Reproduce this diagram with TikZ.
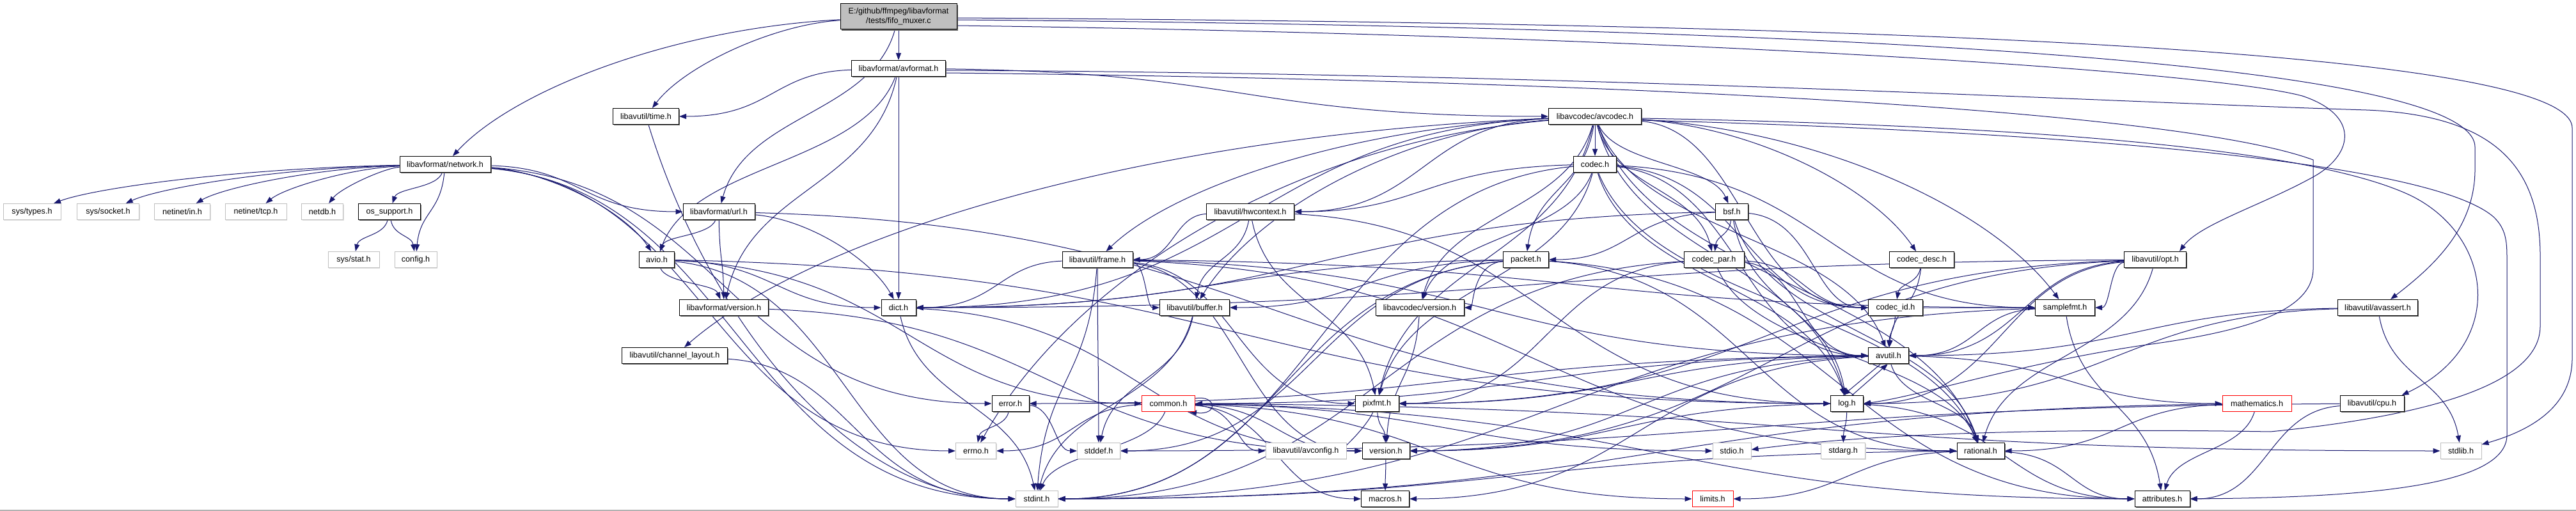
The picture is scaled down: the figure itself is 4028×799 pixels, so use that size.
\documentclass[tikz,border=0pt]{standalone}
\usepackage{fontspec}
\setmainfont{Liberation Sans}
\usetikzlibrary{arrows.meta,shadows,calc}
\pgfdeclarelayer{back}
\pgfdeclarelayer{bg}
\pgfsetlayers{back,bg,main}
\definecolor{mblue}{RGB}{25,25,112}
\newdimen\edgax \newdimen\edgay \newdimen\edgbx \newdimen\edgby
\tikzset{
  box/.style={draw=black, line width=1pt, fill=white, minimum height=25pt, inner sep=0pt,
    font=\fontsize{12.6}{15}\selectfont,
    drop shadow={shadow xshift=1.6pt, shadow yshift=-1.6pt, fill=black!60, opacity=1}},
  sysbox/.style={draw=black!25, line width=1pt, fill=white, minimum height=25pt, inner sep=0pt,
    font=\fontsize{12.6}{15}\selectfont,
    drop shadow={shadow xshift=1.4pt, shadow yshift=-1.4pt, fill=black!12, opacity=1}},
  redbox/.style={draw=red, line width=1pt, fill=white, minimum height=25pt, inner sep=0pt,
    font=\fontsize{12.6}{15}\selectfont},
  srcbox/.style={box, fill=black!25, minimum height=40pt, align=center},
  edge/.style={draw=mblue, line width=1pt, -{Triangle[length=11pt,width=8pt]}},
}
\newcommand{\hnode}[6]{\node[#5, minimum width=#4pt] (#1) at (#2,-#3) {#6};}
% #1: 0 auto, 1 force arrival from top, 2 force arrival from side
\newcommand{\edgcore}[3]{%
  \pgfextractx{\edgax}{\pgfpointanchor{#2}{center}}%
  \pgfextracty{\edgay}{\pgfpointanchor{#2}{center}}%
  \pgfextractx{\edgbx}{\pgfpointanchor{#3}{center}}%
  \pgfextracty{\edgby}{\pgfpointanchor{#3}{center}}%
  \pgfmathsetmacro{\edgdx}{\edgbx-\edgax}%
  \pgfmathsetmacro{\edgdy}{\edgay-\edgby}%
  \pgfmathsetmacro{\edgs}{abs(\edgdx)>1.5*\edgdy ? 1 : 0}%
  \pgfmathsetmacro{\edgt}{#1==1 ? 1 : (#1==2 ? 0 : (abs(\edgdx)<1.5*\edgdy ? 1 : 0))}%
  \pgfmathsetmacro{\edgpx}{\edgax + \edgs*0.5*\edgdx + (1-\edgs)*0.15*\edgdx}%
  \pgfmathsetmacro{\edgpy}{\edgay - (1-\edgs)*0.5*\edgdy - \edgs*0.08*\edgdy}%
  \pgfmathsetmacro{\edgqx}{\edgbx - (1-\edgt)*0.5*\edgdx - \edgt*0.15*\edgdx}%
  \pgfmathsetmacro{\edgqy}{\edgby + \edgt*0.5*\edgdy}%
  \draw[edge] (#2) .. controls (\edgpx pt,\edgpy pt) and (\edgqx pt,\edgqy pt) .. (#3);%
}
\newcommand{\edg}[2]{\edgcore{0}{#1}{#2}}
\newcommand{\edgT}[2]{\edgcore{1}{#1}{#2}}
\newcommand{\edgS}[2]{\edgcore{2}{#1}{#2}}
\begin{document}
\begin{tikzpicture}[x=1pt,y=1pt]
\useasboundingbox (0,0) rectangle (4028,-799);
\begin{pgfonlayer}{back}\fill[white] (0,0) rectangle (4028,-799);\end{pgfonlayer}
% nodes
\node[srcbox, minimum width=182pt] (src) at (1405,-26) {E:/github/ffmpeg/libavformat\\/tests/fifo\_muxer.c};
\hnode{avformat}{1405}{107}{147}{box}{libavformat/avformat.h}
\hnode{time}{1010}{182}{103}{box}{libavutil/time.h}
\hnode{avcodec}{2494}{182}{145}{box}{libavcodec/avcodec.h}
\hnode{network}{696}{257}{142}{box}{libavformat/network.h}
\hnode{codec}{2494}{257}{67}{box}{codec.h}
\hnode{systypes}{50}{331}{90}{sysbox}{sys/types.h}
\hnode{syssocket}{169}{331}{97}{sysbox}{sys/socket.h}
\hnode{netin}{285}{331}{87}{sysbox}{netinet/in.h}
\hnode{nettcp}{400}{331}{96}{sysbox}{netinet/tcp.h}
\hnode{netdb}{504}{331}{65}{sysbox}{netdb.h}
\hnode{ossupport}{609}{331}{97}{box}{os\_support.h}
\hnode{url}{1124}{331}{112}{box}{libavformat/url.h}
\hnode{hwcontext}{1955}{331}{137}{box}{libavutil/hwcontext.h}
\hnode{bsf}{2708}{331}{51}{box}{bsf.h}
\hnode{sysstat}{553}{406}{80}{sysbox}{sys/stat.h}
\hnode{config}{650}{406}{66}{sysbox}{config.h}
\hnode{avio}{1027}{406}{55}{box}{avio.h}
\hnode{frame}{1716}{406}{110}{box}{libavutil/frame.h}
\hnode{packet}{2386}{406}{71}{box}{packet.h}
\hnode{codecpar}{2680}{406}{94}{box}{codec\_par.h}
\hnode{codecdesc}{3005}{406}{101}{box}{codec\_desc.h}
\hnode{opt}{3370}{406}{97}{box}{libavutil/opt.h}
\hnode{avfversion}{1132}{481}{139}{box}{libavformat/version.h}
\hnode{dict}{1405}{481}{54}{box}{dict.h}
\hnode{buffer}{1868}{481}{109}{box}{libavutil/buffer.h}
\hnode{avcversion}{2220}{481}{138}{box}{libavcodec/version.h}
\hnode{codecid}{2964}{481}{85}{box}{codec\_id.h}
\hnode{samplefmt}{3229}{481}{93}{box}{samplefmt.h}
\hnode{avassert}{3718}{481}{125}{box}{libavutil/avassert.h}
\hnode{chlayout}{1055}{556}{165}{box}{libavutil/channel\_layout.h}
\hnode{avutil}{2953}{556}{63}{box}{avutil.h}
\hnode{error}{1580}{631}{58}{box}{error.h}
\hnode{common}{1827}{631}{83}{redbox}{common.h}
\hnode{pixfmt}{2153}{631}{68}{box}{pixfmt.h}
\hnode{log}{2888}{631}{51}{box}{log.h}
\hnode{mathematics}{3529}{631}{108}{redbox}{mathematics.h}
\hnode{cpu}{3709}{631}{100}{box}{libavutil/cpu.h}
\hnode{errno}{1526}{705}{63}{sysbox}{errno.h}
\hnode{stddef}{1718}{705}{67}{sysbox}{stddef.h}
\hnode{avconfig}{2042}{705}{126}{sysbox}{libavutil/avconfig.h}
\hnode{version}{2167}{705}{74}{box}{version.h}
\hnode{stdio}{2708}{705}{60}{sysbox}{stdio.h}
\hnode{stdarg}{2882}{705}{69}{sysbox}{stdarg.h}
\hnode{rational}{3097}{705}{74}{box}{rational.h}
\hnode{stdlib}{3848}{705}{64}{sysbox}{stdlib.h}
\hnode{stdint}{1621}{780}{66}{sysbox}{stdint.h}
\hnode{macros}{2166}{780}{75}{box}{macros.h}
\hnode{limits}{2678}{780}{64}{redbox}{limits.h}
\hnode{attributes}{3381}{780}{86}{box}{attributes.h}
% edges
\begin{pgfonlayer}{bg}
% source file
\edg{src}{avformat}
\edgT{src}{time}
\edgT{src}{network}
\edg{src}{url}
\draw[edge] ([yshift=-2pt]src.east) .. controls (2600,-35) and (4022,-60) .. (4022,-200) -- (4022,-560) .. controls (4022,-640) and (3950,-675) .. ([yshift=-3pt]stdlib.north east);
\draw[edge] ([yshift=-5pt]src.east) .. controls (2600,-40) and (3870,-80) .. (3870,-230) -- (3870,-265) .. controls (3870,-360) and (3800,-420) .. ([xshift=20pt]avassert.north);
\draw[edge] ([yshift=-14pt]src.east) .. controls (2600,-55) and (3450,-110) .. (3600,-150) .. controls (3690,-180) and (3680,-240) .. (3620,-275) .. controls (3540,-320) and (3440,-350) .. ([xshift=38pt]opt.north);
% avformat.h
\edg{avformat}{time}
\edg{avformat}{avcodec}
\edg{avformat}{dict}
\edg{avformat}{avio}
\edg{avformat}{avfversion}
\draw[edge] ([yshift=-3pt]avformat.east) .. controls (2500,-115) and (3300,-160) .. (3700,-172) .. controls (3900,-180) and (3972,-260) .. (3972,-400) -- (3972,-510) .. controls (3972,-600) and (3800,-650) .. (3550,-675) .. controls (3250,-670) and (2950,-675) .. ([yshift=2pt]stdio.east);
\draw[edge] ([yshift=-7pt]avformat.east) .. controls (2500,-125) and (3400,-170) .. (3617,-250) -- (3617,-420) .. controls (3617,-490) and (3500,-520) .. (3350,-540) .. controls (3150,-570) and (3000,-620) .. (log.east);
% avio.h
\edgS{avio}{stdint}
\edg{avio}{common}
\edg{avio}{dict}
\edg{avio}{log}
\edg{avio}{avfversion}
\edg{avfversion}{version}
% url.h
\edg{url}{avio}
\edg{url}{avfversion}
\edgT{url}{dict}
\edg{url}{log}
% network.h
\edg{network}{errno}
\edg{network}{stdint}
\edg{network}{config}
\edg{network}{error}
\edg{network}{ossupport}
\edgT{network}{avio}
\edg{network}{url}
\edgT{network}{systypes}
\edgT{network}{syssocket}
\edgT{network}{netin}
\edgT{network}{nettcp}
\edgT{network}{netdb}
\edg{ossupport}{config}
\edg{ossupport}{sysstat}
\edgS{time}{stdint}
% opt.h
\edg{opt}{rational}
\edg{opt}{avutil}
\edg{opt}{dict}
\edg{opt}{log}
\edg{opt}{pixfmt}
\edg{opt}{samplefmt}
\edg{opt}{version}
% avassert.h
\edg{avassert}{stdlib}
\edg{avassert}{avutil}
\edg{avassert}{log}
% cpu.h
\edg{cpu}{stddef}
\edg{cpu}{attributes}
% avcodec.h
\edgT{avcodec}{errno}
\edgT{avcodec}{samplefmt}
\edg{avcodec}{avutil}
\edgT{avcodec}{buffer}
\edgT{avcodec}{chlayout}
\edg{avcodec}{dict}
\edgT{avcodec}{frame}
\edg{avcodec}{hwcontext}
\edg{avcodec}{log}
\edg{avcodec}{pixfmt}
\edg{avcodec}{rational}
\edg{avcodec}{bsf}
\edg{avcodec}{codec}
\edgT{avcodec}{codecdesc}
\edg{avcodec}{codecpar}
\edg{avcodec}{codecid}
\edg{avcodec}{packet}
\edg{avcodec}{avcversion}
\draw[edge] ([yshift=-3pt]avcodec.east) .. controls (3100,-195) and (3600,-225) .. (3770,-306) .. controls (3900,-370) and (3920,-540) .. ([xshift=-4pt]cpu.north east);
\draw[edge] ([yshift=-6pt]avcodec.east) .. controls (3200,-205) and (3800,-250) .. (3900,-340) .. controls (3920,-360) and (3920,-380) .. (3920,-410) -- (3920,-680) .. controls (3920,-760) and (3700,-778) .. (attributes.east);
% codec.h
\edg{codec}{stdint}
\edg{codec}{avutil}
\edg{codec}{hwcontext}
\edg{codec}{log}
\edg{codec}{pixfmt}
\edg{codec}{rational}
\edg{codec}{samplefmt}
\edg{codec}{codecid}
\edg{codec}{avcversion}
% bsf.h
\edg{bsf}{dict}
\edg{bsf}{log}
\edg{bsf}{rational}
\edg{bsf}{codecid}
\edg{bsf}{codecpar}
\edg{bsf}{packet}
% codec_desc, codec_id, codec_par
\edg{codecdesc}{avutil}
\edg{codecdesc}{codecid}
\edg{codecid}{avutil}
\edg{codecid}{samplefmt}
\edg{codecpar}{stdint}
\edg{codecpar}{avutil}
\edg{codecpar}{rational}
\edg{codecpar}{pixfmt}
\edg{codecpar}{codecid}
% packet.h
\edg{packet}{stddef}
\edg{packet}{stdint}
\edg{packet}{attributes}
\edg{packet}{buffer}
\edg{packet}{dict}
\edg{packet}{rational}
\edg{packet}{avcversion}
\edg{avcversion}{version}
% hwcontext.h
\edg{hwcontext}{buffer}
\edg{hwcontext}{frame}
\edg{hwcontext}{log}
\edg{hwcontext}{pixfmt}
% frame.h
\edg{frame}{stddef}
\edg{frame}{stdint}
\edg{frame}{avutil}
\edg{frame}{buffer}
\edg{frame}{dict}
\edg{frame}{rational}
\edg{frame}{samplefmt}
\edg{frame}{pixfmt}
\edg{frame}{version}
% small headers
\edg{buffer}{stddef}
\edg{buffer}{stdint}
\edg{dict}{stdint}
\edg{dict}{version}
\edg{chlayout}{stdint}
\edg{samplefmt}{stdint}
\edg{samplefmt}{avutil}
\edg{samplefmt}{attributes}
% avutil.h
\edg{avutil}{common}
\edg{avutil}{error}
\edg{avutil}{rational}
\edg{avutil}{version}
\edg{avutil}{macros}
\edg{avutil}{mathematics}
\edg{avutil}{pixfmt}
\draw[edge] ([xshift=-12pt]avutil.south) -- ([xshift=-6pt]log.north);
\draw[edge] ([xshift=8pt]log.north) -- ([xshift=-1pt]avutil.south);
% common.h
\edg{common}{errno}
\edg{common}{limits}
\edg{common}{stdint}
\edg{common}{stdio}
\edg{common}{stdlib}
\edg{common}{attributes}
\edg{common}{macros}
\edg{common}{version}
\edg{common}{avconfig}
\draw[edge] ([yshift=8pt]common.east) .. controls (1902,-617) and (1906,-650) .. ([xshift=-9pt]common.south east);
% the rest
\edg{error}{errno}
\edg{error}{stddef}
\edg{log}{stdarg}
\edg{log}{attributes}
\edg{log}{version}
\edg{pixfmt}{avconfig}
\edg{pixfmt}{version}
\edg{version}{macros}
\edg{rational}{stdint}
\edg{rational}{limits}
\edg{rational}{attributes}
\edg{mathematics}{stdint}
\edg{mathematics}{attributes}
\edg{mathematics}{rational}
\end{pgfonlayer}
\draw[black!30, line width=1.2pt] (0,-798) -- (4028,-798);
\end{tikzpicture}
\end{document}
